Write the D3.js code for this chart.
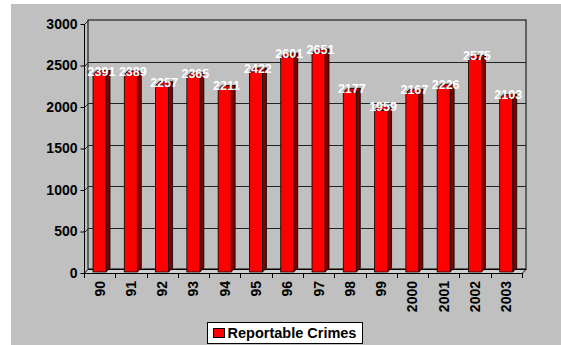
<!DOCTYPE html>
<html>
<head>
<meta charset="utf-8">
<script src="https://cdn.jsdelivr.net/npm/d3@7"></script>
<style>
  html, body { margin: 0; padding: 0; background: #ffffff; }
  svg { display: block; }
  text { font-family: Arial, "Liberation Sans", sans-serif; font-weight: bold; }
</style>
</head>
<body>
<svg id="chart" width="561" height="345"></svg>
<script>
// Reportable crimes per year
const years = ["90", "91", "92", "93", "94", "95", "96", "97", "98", "99", "2000", "2001", "2002", "2003"];
const crimes = [2391, 2389, 2257, 2365, 2211, 2422, 2601, 2651, 2177, 1959, 2167, 2226, 2575, 2103];
const yTicks = [0, 500, 1000, 1500, 2000, 2500, 3000];
const seriesName = "Reportable Crimes";

const svg = d3.select("#chart");

// panel background
svg.append("rect").attr("x", 11).attr("y", 4).attr("width", 550).attr("height", 341).attr("fill", "#c0c0c0");

// front plane geometry and 3D depth offset
const x0 = 84, x1 = 522, yBase = 273, yTop = 24;
const dx = 4, dy = -4;

const x = d3.scaleBand().domain(years).range([x0, x1]).paddingInner(0).paddingOuter(0);
const y = d3.scaleLinear().domain([0, 3000]).range([yBase, yTop]);

// back wall
const g = svg.append("g");
g.append("rect")
  .attr("x", x0 + dx).attr("y", yTop + dy)
  .attr("width", x1 - x0).attr("height", yBase - yTop)
  .attr("fill", "#c0c0c0").attr("stroke", "#000").attr("stroke-width", 1);

// gridlines on back wall and side wall
yTicks.forEach(t => {
  const yy = Math.round(y(t)) + 0.5;
  if (t > 0 && t < 3000) {
    g.append("line").attr("x1", x0 + dx).attr("x2", x1 + dx)
      .attr("y1", yy + dy).attr("y2", yy + dy)
      .attr("stroke", "#222").attr("stroke-width", 1);
  }
  g.append("line").attr("x1", x0 + 0.5).attr("x2", x0 + dx + 0.5)
    .attr("y1", yy).attr("y2", yy + dy)
    .attr("stroke", "#222").attr("stroke-width", 1);
});

// floor
g.append("path")
  .attr("d", `M${x0},${yBase + 0.5} L${x1},${yBase + 0.5} L${x1 + dx},${yBase + dy + 0.5} L${x0 + dx},${yBase + dy + 0.5} Z`)
  .attr("fill", "#d0d0d0").attr("stroke", "#000").attr("stroke-width", 1);

// left axis line (front)
g.append("line").attr("x1", x0 + 0.5).attr("x2", x0 + 0.5).attr("y1", yTop).attr("y2", yBase + 0.5)
  .attr("stroke", "#000");

// y axis ticks and labels
const yAxis = d3.axisLeft(y).tickValues(yTicks).tickSize(4).tickPadding(3).tickFormat(d3.format("d"));
const ya = svg.append("g").attr("transform", `translate(${x0 + 0.5},0)`).call(yAxis);
ya.select(".domain").remove();
ya.selectAll("text").attr("font-size", "14px").attr("fill", "#000")
  .style("font-family", "Arial, 'Liberation Sans', sans-serif").style("font-weight", "bold");
ya.selectAll("line").attr("stroke", "#000");

// x axis ticks at category boundaries
const boundaries = years.map(d => x(d)).concat([x1]);
boundaries.forEach(bx => {
  svg.append("line").attr("x1", Math.round(bx) + 0.5).attr("x2", Math.round(bx) + 0.5)
    .attr("y1", yBase).attr("y2", yBase + 5).attr("stroke", "#000");
});

// x labels, rotated
years.forEach(d => {
  const cx = x(d) + x.bandwidth() / 2;
  svg.append("text")
    .attr("transform", `translate(${cx},${yBase + 8}) rotate(-90)`)
    .attr("text-anchor", "end").attr("dy", "0.35em")
    .attr("font-size", "14px").attr("fill", "#000")
    .text(d);
});

// 3D columns
const barW = 13, barOff = 9;
const bars = svg.append("g");
years.forEach((d, i) => {
  const v = crimes[i];
  const bx = x(d) + barOff;
  const top = y(v), bot = yBase - 1;
  // side face
  bars.append("path")
    .attr("d", `M${bx + barW},${top} L${bx + barW + dx},${top + dy} L${bx + barW + dx},${bot + dy} L${bx + barW},${bot} Z`)
    .attr("fill", "#800000").attr("stroke", "#000").attr("stroke-width", 0.8);
  // top face
  bars.append("path")
    .attr("d", `M${bx},${top} L${bx + dx},${top + dy} L${bx + barW + dx},${top + dy} L${bx + barW},${top} Z`)
    .attr("fill", "#cc0000").attr("stroke", "#000").attr("stroke-width", 0.8);
  // front face
  bars.append("rect")
    .attr("x", bx).attr("y", top).attr("width", barW).attr("height", bot - top)
    .attr("fill", "#ff0000").attr("stroke", "#000").attr("stroke-width", 0.8);
});

// value labels
years.forEach((d, i) => {
  const v = crimes[i];
  const cx = x(d) + barOff + (barW + dx) / 2;
  svg.append("text")
    .attr("x", cx).attr("y", y(v) + 1)
    .attr("text-anchor", "middle")
    .attr("font-size", "12.5px").attr("fill", "#ffffff")
    .text(v);
});

// legend
const lg = svg.append("g").attr("transform", "translate(207.5,322.5)");
lg.append("rect").attr("width", 155).attr("height", 21).attr("fill", "#fff").attr("stroke", "#000");
lg.append("rect").attr("x", 6).attr("y", 6).attr("width", 11).attr("height", 9)
  .attr("fill", "#ff0000").attr("stroke", "#000");
lg.append("text").attr("x", 20).attr("y", 15.5).attr("font-size", "14.5px").attr("fill", "#000").text(seriesName);
</script>
</body>
</html>
